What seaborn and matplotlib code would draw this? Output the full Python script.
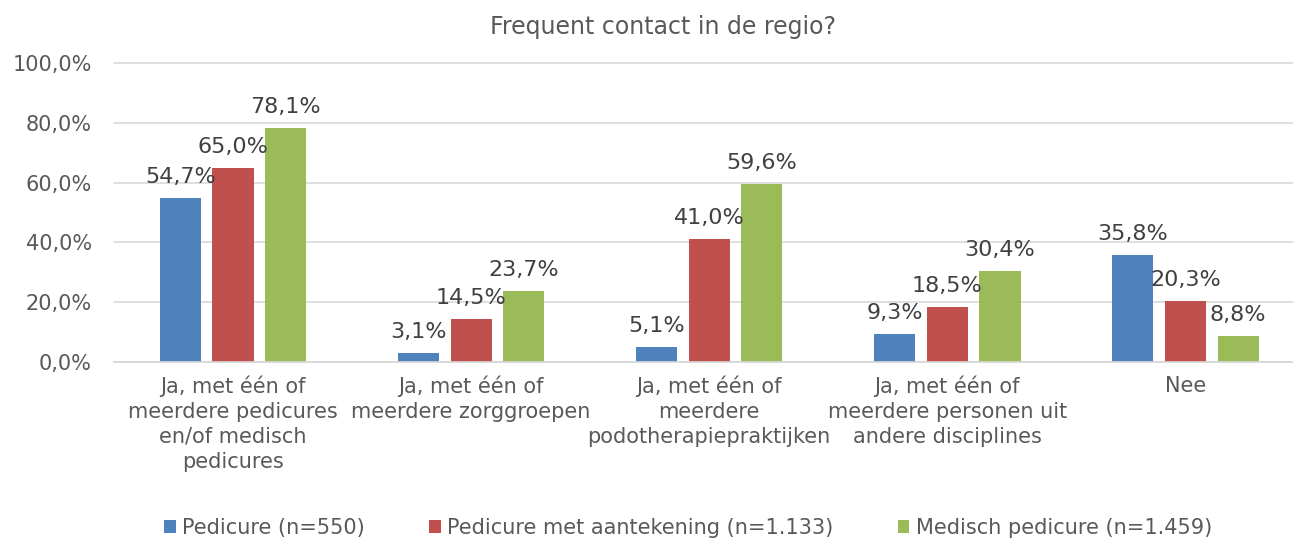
import matplotlib
matplotlib.use('Agg')
import pandas as pd
import numpy as np
import matplotlib.pyplot as plt
import seaborn as sns
from matplotlib.patches import Patch
from matplotlib.ticker import FuncFormatter

# Data
categories = [
    "Ja, met één of\nmeerdere pedicures\nen/of medisch\npedicures",
    "Ja, met één of\nmeerdere zorggroepen",
    "Ja, met één of\nmeerdere\npodotherapiepraktijken",
    "Ja, met één of\nmeerdere personen uit\nandere disciplines",
    "Nee",
]
series = ["Pedicure (n=550)", "Pedicure met aantekening (n=1.133)", "Medisch pedicure (n=1.459)"]
pedicure = [54.7, 3.1, 5.1, 9.3, 35.8]
aantekening = [65.0, 14.5, 41.0, 18.5, 20.3]
medisch = [78.1, 23.7, 59.6, 30.4, 8.8]
colors = ["#4F81BD", "#C0504D", "#9BBB59"]

df = pd.DataFrame({
    'categorie': categories * 3,
    'groep': np.repeat(series, len(categories)),
    'waarde': pedicure + aantekening + medisch,
})

def pct(v, pos=None):
    return f"{v:.1f}".replace('.', ',') + '%'

sns.set_theme(style='white')
plt.rcParams['font.family'] = ['DejaVu Sans']

fig = plt.figure(figsize=(12.93, 5.42), dpi=100)
ax = fig.add_axes([114 / 1293, 1 - 362 / 542, (1293 - 114) / 1293, 299 / 542])

sns.barplot(data=df, x='categorie', y='waarde', hue='groep', palette=colors,
            width=0.664, gap=0.22, saturation=1, linewidth=0, legend=False, ax=ax)

# value labels on top of bars
for c in ax.containers:
    ax.bar_label(c, labels=[pct(v) for v in c.datavalues], padding=8,
                 fontsize=16, color='#404040')

ax.set_ylim(0, 100)
ax.set_xlim(-0.5, 4.452)
ax.yaxis.set_major_formatter(FuncFormatter(pct))
ax.set_yticks(range(0, 101, 20))
ax.set_xlabel('')
ax.set_ylabel('')

ax.grid(axis='y', color='#D9D9D9', linewidth=1.2)
for gl in ax.get_ygridlines():
    gl.set_clip_on(False)
ax.set_axisbelow(True)
for s in ['top', 'right', 'left']:
    ax.spines[s].set_visible(False)
ax.spines['bottom'].set_color('#D9D9D9')
ax.spines['bottom'].set_linewidth(1.2)

ax.tick_params(axis='x', length=0, pad=10, labelsize=15, labelcolor='#595959')
ax.tick_params(axis='y', length=0, pad=16, labelsize=15, labelcolor='#595959')
for lbl in ax.get_xticklabels():
    lbl.set_linespacing(1.3)

fig.text(663 / 1293, 1 - 27 / 542, "Frequent contact in de regio?", ha='center', va='center',
         fontsize=17, color='#595959')

handles = [Patch(facecolor=col, edgecolor='none') for col in colors]
leg = fig.legend(handles, series, loc='center', bbox_to_anchor=(688 / 1293, 1 - 528 / 542),
                 ncol=3, frameon=False, handlelength=0.55, handleheight=0.55,
                 handletextpad=0.3, columnspacing=3.1, fontsize=15)
for t in leg.get_texts():
    t.set_color('#595959')

fig.savefig('out.png', dpi=100)
